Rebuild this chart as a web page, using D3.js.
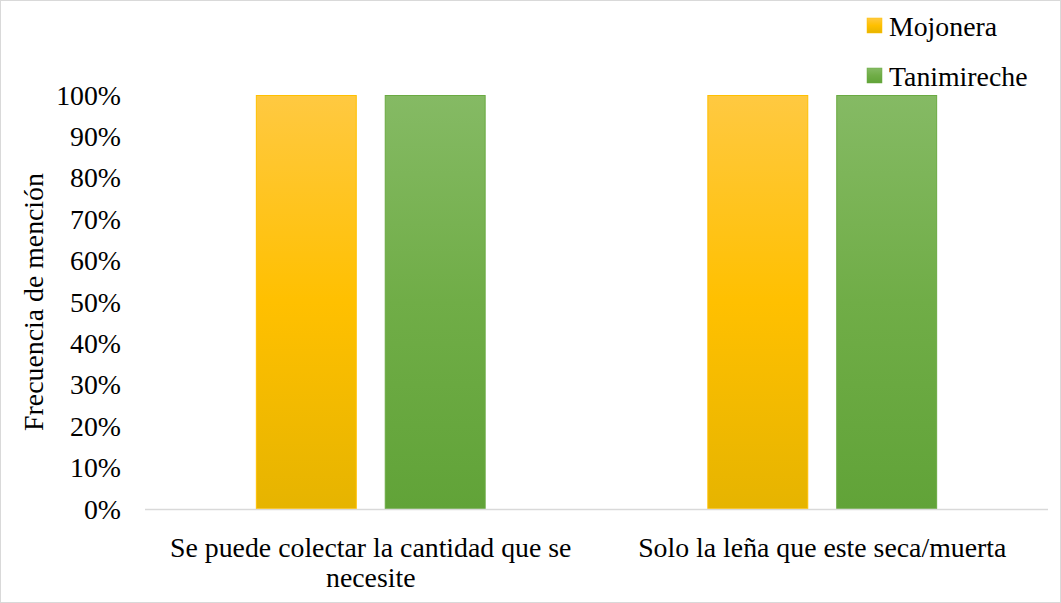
<!DOCTYPE html>
<html>
<head>
<meta charset="utf-8">
<script src="https://cdn.jsdelivr.net/npm/d3@7"></script>
<style>
  html, body { margin: 0; padding: 0; background: #fff; }
  svg { display: block; }
  svg text { font-family: "Liberation Serif", "Times New Roman", serif; }
</style>
</head>
<body>
<svg id="chart" width="1061" height="603"></svg>
<script>
// Categories (x axis), series names and their values
const categories = [
  ["Se puede colectar la cantidad que se", "necesite"],
  ["Solo la leña que este seca/muerta"]
];
const seriesNames = ["Mojonera", "Tanimireche"];
const mojonera = [1.0, 1.0];
const tanimireche = [1.0, 1.0];
const yTicks = [0, 0.1, 0.2, 0.3, 0.4, 0.5, 0.6, 0.7, 0.8, 0.9, 1.0];
const yTitle = "Frecuencia de mención";

const seriesValues = [mojonera, tanimireche];
const colors = {
  Mojonera: { light: "#FFC941", base: "#FFC000", dark: "#E6B400", stroke: "#FFC000" },
  Tanimireche: { light: "#85BA64", base: "#70AD47", dark: "#61A338", stroke: "#6AAA42" }
};

const FONT = "'Liberation Serif', 'Times New Roman', serif";
const FS = 27.8;

const W = 1061, H = 603;
const margin = { left: 145, right: 13, top: 95, bottom: 94 };
const svg = d3.select("#chart");

// Outer border of the chart area
svg.append("rect")
  .attr("x", 0.5).attr("y", 0.5)
  .attr("width", W - 1).attr("height", H - 1)
  .attr("fill", "#fff").attr("stroke", "#d9d9d9");

// Vertical gradients for each series
const defs = svg.append("defs");
seriesNames.forEach((s, i) => {
  const g = defs.append("linearGradient")
    .attr("id", "grad" + i)
    .attr("x1", 0).attr("y1", 0).attr("x2", 0).attr("y2", 1);
  g.append("stop").attr("offset", "0%").attr("stop-color", colors[s].light);
  g.append("stop").attr("offset", "50%").attr("stop-color", colors[s].base);
  g.append("stop").attr("offset", "100%").attr("stop-color", colors[s].dark);
});

const x0 = d3.scaleBand()
  .domain(d3.range(categories.length))
  .range([margin.left, W - margin.right])
  .paddingInner(0).paddingOuter(0);

const x1 = d3.scaleBand()
  .domain(seriesNames)
  .range([0, x0.bandwidth()])
  .paddingInner(0.217)
  .paddingOuter(0.86);

const y = d3.scaleLinear()
  .domain([0, 1])
  .range([H - margin.bottom, margin.top]);

// Bars
const groups = svg.append("g").selectAll("g")
  .data(categories.map((c, i) => i))
  .join("g")
  .attr("transform", i => `translate(${x0(i)},0)`);

groups.selectAll("rect")
  .data(i => seriesNames.map((s, k) => ({ s, k, v: seriesValues[k][i] })))
  .join("rect")
  .attr("x", d => x1(d.s) + 0.5)
  .attr("y", d => y(d.v) + 0.5)
  .attr("width", x1.bandwidth() - 1)
  .attr("height", d => y(0) - y(d.v) - 1)
  .attr("fill", d => `url(#grad${d.k})`)
  .attr("stroke", d => colors[d.s].stroke)
  .attr("stroke-width", 1);

// X axis baseline
svg.append("line")
  .attr("x1", margin.left).attr("x2", W - margin.right)
  .attr("y1", y(0) + 0.5).attr("y2", y(0) + 0.5)
  .attr("stroke", "#d9d9d9").attr("stroke-width", 1.5);

// Y axis tick labels
const yAxis = d3.axisLeft(y)
  .tickValues(yTicks)
  .tickFormat(d3.format(".0%"))
  .tickSize(0)
  .tickPadding(0);
const ya = svg.append("g")
  .attr("transform", `translate(121,0)`)
  .call(yAxis)
  .attr("font-family", FONT)
  .attr("font-size", FS);
ya.select(".domain").remove();
ya.selectAll("text")
  .attr("font-family", FONT)
  .attr("font-size", FS)
  .attr("fill", "#000")
  .attr("dy", "0.33em");

// X category labels
const xl = svg.append("g").selectAll("text")
  .data(categories.map((c, i) => ({ lines: c, i })))
  .join("text")
  .attr("text-anchor", "middle")
  .attr("font-family", FONT)
  .attr("font-size", FS)
  .attr("fill", "#000");
xl.each(function(d) {
  const t = d3.select(this);
  d.lines.forEach((ln, j) => {
    t.append("tspan")
      .attr("x", x0(d.i) + x0.bandwidth() / 2)
      .attr("y", 557 + j * 30)
      .text(ln);
  });
});

// Y axis title
svg.append("text")
  .attr("transform", `translate(43,${(y(0) + y(1)) / 2}) rotate(-90)`)
  .attr("text-anchor", "middle")
  .attr("font-family", FONT)
  .attr("font-size", FS)
  .attr("fill", "#000")
  .text(yTitle);

// Legend
const legend = svg.append("g").selectAll("g")
  .data(seriesNames)
  .join("g")
  .attr("transform", (d, i) => `translate(867,${18 + i * 50})`);
legend.append("rect")
  .attr("width", 15).attr("height", 15)
  .attr("fill", (d, i) => `url(#grad${i})`)
  .attr("stroke", d => colors[d].stroke)
  .attr("stroke-width", 0.5);
legend.append("text")
  .attr("x", 22).attr("y", 8)
  .attr("dy", "0.35em")
  .attr("font-family", FONT)
  .attr("font-size", FS)
  .attr("fill", "#000")
  .text(d => d);
</script>
</body>
</html>
